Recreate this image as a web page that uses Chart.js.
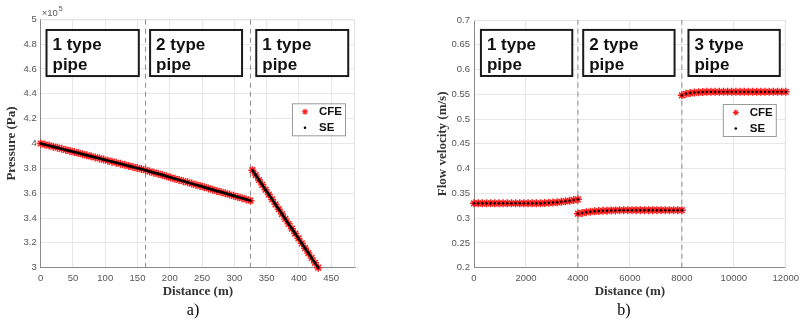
<!DOCTYPE html>
<html>
<head>
<meta charset="utf-8">
<script src="https://cdn.jsdelivr.net/npm/chart.js@4.4.0/dist/chart.umd.min.js"></script>
<style>
    html, body { margin: 0; padding: 0; background: #fff; }
    #wrap { position: relative; width: 804px; height: 321px; overflow: hidden; }
    canvas { position: absolute; top: 0; }
    #chart-a { left: 0; }
    #chart-b { left: 431px; }
    .cap { position: absolute; top: 301px; transform: translateX(-50%);
           font: 16px "Liberation Serif", "Times New Roman", serif; color: #000; }
</style>
</head>
<body>
<div id="wrap">
    <canvas id="chart-a" width="400" height="321"></canvas>
    <canvas id="chart-b" width="373" height="321"></canvas>
    <div class="cap" style="left:193px">a)</div>
    <div class="cap" style="left:624px">b)</div>
</div>
<script>
// a) давление вдоль трубы, значения в единицах 1e5 Па
const distanceA = [
    0, 6.5, 13, 19.5, 26, 32.5, 39, 45.5, 52, 58.5, 65, 71.5, 78, 84.5, 91, 97.5,
    104, 110.5, 117, 123.5, 130, 136.5, 143, 149.5, 156, 162.5,
    169, 175.5, 182, 188.5, 195, 201.5, 208, 214.5, 221, 227.5, 234, 240.5, 247,
    253.5, 260, 266.5, 273, 279.5, 286, 292.5, 299, 305.5, 312, 318.5, 325,
    328, 333.1, 338.2, 343.3, 348.4, 353.5, 358.6, 363.7, 368.8, 373.9, 379,
    384.1, 389.2, 394.3, 399.4, 404.5, 409.6, 414.7, 419.8, 424.9, 430
];
const pressureA = [
    4.000, 3.991, 3.983, 3.974, 3.966, 3.957, 3.948, 3.940, 3.931, 3.923, 3.914, 3.905, 3.897,
    3.888, 3.880, 3.871, 3.862, 3.854, 3.845, 3.837, 3.828, 3.819, 3.811, 3.802, 3.794, 3.785,
    3.775, 3.765, 3.756, 3.746, 3.736, 3.726, 3.716, 3.707, 3.697, 3.687, 3.677, 3.667, 3.658,
    3.648, 3.638, 3.628, 3.618, 3.609, 3.599, 3.589, 3.579, 3.569, 3.560, 3.550, 3.540,
    3.785, 3.746, 3.706, 3.667, 3.628, 3.589, 3.550, 3.510, 3.471, 3.432, 3.393,
    3.353, 3.314, 3.275, 3.236, 3.196, 3.157, 3.118, 3.079, 3.039, 3.000
];
const jointsA = [162.5, 325];
const pipeTypesA = ['1 type', '2 type', '1 type'];

// b) скорость потока
const distanceB = [
    0, 160, 320, 480, 640, 800, 960, 1120, 1280, 1440, 1600, 1760, 1920, 2080, 2240, 2400,
    2560, 2720, 2880, 3040, 3200, 3360, 3520, 3680, 3840, 4000,
    4000, 4160, 4320, 4480, 4640, 4800, 4960, 5120, 5280, 5440, 5600, 5760, 5920, 6080, 6240,
    6400, 6560, 6720, 6880, 7040, 7200, 7360, 7520, 7680, 7840, 8000,
    8000, 8160, 8320, 8480, 8640, 8800, 8960, 9120, 9280, 9440, 9600, 9760, 9920, 10080, 10240,
    10400, 10560, 10720, 10880, 11040, 11200, 11360, 11520, 11680, 11840, 12000
];
const velocityB = [
    0.330, 0.330, 0.330, 0.330, 0.330, 0.330, 0.330, 0.330, 0.330, 0.330, 0.330, 0.330, 0.330,
    0.330, 0.330, 0.330, 0.330, 0.3305, 0.331, 0.3315, 0.332, 0.333, 0.334, 0.335, 0.3365, 0.338,
    0.309, 0.3105, 0.312, 0.313, 0.3138, 0.3144, 0.3148, 0.3152, 0.3155, 0.3157, 0.316, 0.316,
    0.316, 0.316, 0.316, 0.316, 0.316, 0.316, 0.316, 0.316, 0.316, 0.316, 0.316, 0.316, 0.316, 0.316,
    0.548, 0.551, 0.5525, 0.5535, 0.554, 0.5545, 0.555, 0.555, 0.555, 0.555, 0.555, 0.555, 0.555,
    0.555, 0.555, 0.555, 0.555, 0.555, 0.555, 0.555, 0.555, 0.555, 0.555, 0.555, 0.555, 0.555
];
const jointsB = [4000, 8000];
const pipeTypesB = ['1 type', '2 type', '3 type'];

const SANS = '"Liberation Sans", Arial, Helvetica, sans-serif';
const SERIF = '"Liberation Serif", "Times New Roman", serif';
Chart.defaults.font.family = SANS;

// рамки с подписями участков, легенда, множитель оси
const pipeOverlay = {
    id: 'pipeOverlay',
    beforeDatasetsDraw(chart) {
        const { ctx, chartArea: a } = chart;
        ctx.save();
        ctx.strokeStyle = '#e2e2e2';
        ctx.lineWidth = 1;
        ctx.beginPath();
        ctx.moveTo(a.left, a.top + 0.5);
        ctx.lineTo(a.right - 0.5, a.top + 0.5);
        ctx.lineTo(a.right - 0.5, a.bottom);
        ctx.stroke();
        ctx.restore();
    },
    afterDatasetsDraw(chart, args, opts) {
        const { ctx, chartArea: a, scales: { x, y } } = chart;
        ctx.save();
        opts.boxes.forEach((b, i) => {
            const l = x.getPixelForValue(b[0]), r = x.getPixelForValue(b[1]);
            const t = y.getPixelForValue(opts.boxTop), btm = y.getPixelForValue(opts.boxBottom);
            ctx.fillStyle = '#fff';
            ctx.fillRect(l, t, r - l, btm - t);
            ctx.strokeStyle = '#1a1a1a';
            ctx.lineWidth = 2;
            ctx.strokeRect(l, t, r - l, btm - t);
            ctx.fillStyle = '#111';
            ctx.font = 'bold 17px ' + SANS;
            ctx.textAlign = 'left';
            ctx.textBaseline = 'alphabetic';
            ctx.fillText(opts.labels[i], l + 6, t + 20);
            ctx.fillText('pipe', l + 6, t + 40);
        });

        // легенда (в порядке датасетов: CFE, SE)
        const lw = 53, lh = 32;
        const lx = a.right - 10 - lw, ly = a.top + 84;
        ctx.fillStyle = '#fff';
        ctx.fillRect(lx, ly, lw, lh);
        ctx.strokeStyle = '#9a9a9a';
        ctx.lineWidth = 1;
        ctx.strokeRect(lx + 0.5, ly + 0.5, lw, lh);
        const items = chart.data.datasets.filter(d => d.label);
        items.forEach((d, i) => {
            const cy = ly + 8.5 + i * 16;
            ctx.strokeStyle = d.pointBorderColor;
            ctx.fillStyle = d.pointBackgroundColor;
            ctx.lineWidth = d.legendBorder;
            Chart.helpers.drawPoint(ctx, {
                pointStyle: d.pointStyle, rotation: 0,
                radius: d.legendRadius, borderWidth: d.legendBorder
            }, lx + 13, cy);
            ctx.fillStyle = '#111';
            ctx.font = 'bold 11.5px ' + SANS;
            ctx.textBaseline = 'middle';
            ctx.fillText(d.label, lx + 27, cy + 0.5);
        });

        if (opts.exponent) {
            ctx.fillStyle = '#555';
            ctx.font = '9.5px ' + SANS;
            ctx.textBaseline = 'alphabetic';
            ctx.fillText('\u00d710', a.left + 1, a.top - 3);
            ctx.font = '7px ' + SANS;
            ctx.fillText(opts.exponent, a.left + 18, a.top - 8);
        }
        ctx.restore();
    }
};

function jointDatasets(joints, yMin, yMax) {
    return joints.map(j => ({
        label: '',
        data: [{ x: j, y: yMin }, { x: j, y: yMax }],
        showLine: true,
        borderColor: '#8c8c8c',
        borderWidth: 1,
        borderDash: [5, 4],
        pointRadius: 0,
        order: 3
    }));
}

function points(xs, ys, breakOnJump) {
    const pts = [];
    xs.forEach((x, i) => {
        if (breakOnJump && i > 0 && ys[i] > ys[i - 1]) pts.push({ x: x, y: null });
        pts.push({ x: x, y: ys[i] });
    });
    return pts;
}

function axis(opts) {
    return {
        type: 'linear',
        min: opts.min,
        max: opts.max,
        border: { color: '#8a8a8a' },
        grid: { color: '#e8e8e8', drawTicks: false },
        ticks: {
            stepSize: opts.step,
            includeBounds: false,
            padding: opts.pad,
            color: '#555',
            font: { size: 9.5 },
            maxRotation: 0,
            autoSkip: false,
            callback: opts.fmt
        },
        title: {
            display: true,
            text: opts.title,
            color: '#333',
            font: { family: SERIF, size: 13, weight: 'bold' },
            padding: opts.titlePad
        },
        afterFit: opts.fit
    };
}

function makeChart(id, cfg) {
    return new Chart(document.getElementById(id), {
        type: 'scatter',
        data: {
            datasets: [
                {
                    label: 'CFE',
                    data: points(cfg.xs, cfg.ys, false),
                    pointStyle: 'star',
                    pointRadius: 4,
                    legendRadius: 3,
                    legendBorder: 1.1,
                    pointBorderColor: '#ff1a1a',
                    pointBackgroundColor: '#ff1a1a',
                    pointBorderWidth: 1.5,
                    clip: false,
                    order: 1
                },
                {
                    label: 'SE',
                    data: points(cfg.xs, cfg.ys, cfg.seLine),
                    showLine: cfg.seLine,
                    spanGaps: false,
                    borderColor: '#000',
                    borderWidth: 2.5,
                    pointStyle: 'circle',
                    pointRadius: 1.2,
                    legendRadius: 1.3,
                    legendBorder: 0,
                    pointBackgroundColor: '#000',
                    pointBorderColor: '#000',
                    pointBorderWidth: 0,
                    clip: false,
                    order: 0
                },
                ...jointDatasets(cfg.joints, cfg.yMin, cfg.yMax)
            ]
        },
        options: {
            responsive: false,
            animation: false,
            devicePixelRatio: 1,
            layout: { padding: cfg.padding },
            plugins: {
                legend: { display: false },
                tooltip: { enabled: false },
                pipeOverlay: cfg.overlay
            },
            scales: {
                x: axis({
                    min: 0, max: cfg.xMax, step: cfg.xStep, pad: 5,
                    fmt: v => String(v), title: 'Distance (m)',
                    titlePad: { top: 0, bottom: 0 },
                    fit: s => { s.height = 32; }
                }),
                y: axis({
                    min: cfg.yMin, max: cfg.yMax, step: cfg.yStep, pad: 4,
                    fmt: v => String(+v.toFixed(2)), title: cfg.yTitle,
                    titlePad: { top: 4, bottom: 4 },
                    fit: s => { s.width = cfg.yWidth; }
                })
            }
        },
        plugins: [pipeOverlay]
    });
}

makeChart('chart-a', {
    xs: distanceA, ys: pressureA, seLine: true, joints: jointsA,
    xMax: 487, xStep: 50, yMin: 3, yMax: 5, yStep: 0.2,
    yTitle: 'Pressure (Pa)', yWidth: 40.7,
    padding: { top: 19.3, right: 45, bottom: 21.3, left: 0 },
    overlay: {
        labels: pipeTypesA,
        boxes: [[9, 152], [169.5, 312], [334, 476.5]],
        boxTop: 4.914, boxBottom: 4.543,
        exponent: '5'
    }
});

makeChart('chart-b', {
    xs: distanceB, ys: velocityB, seLine: false, joints: jointsB,
    xMax: 12000, xStep: 2000, yMin: 0.2, yMax: 0.7, yStep: 0.05,
    yTitle: 'Flow velocity (m/s)', yWidth: 43,
    padding: { top: 20, right: 15.7, bottom: 21.3, left: 0 },
    overlay: {
        labels: pipeTypesB,
        boxes: [[267, 3783], [4203, 7719], [8254, 11769]],
        boxTop: 0.68, boxBottom: 0.587
    }
});
</script>
</body>
</html>
